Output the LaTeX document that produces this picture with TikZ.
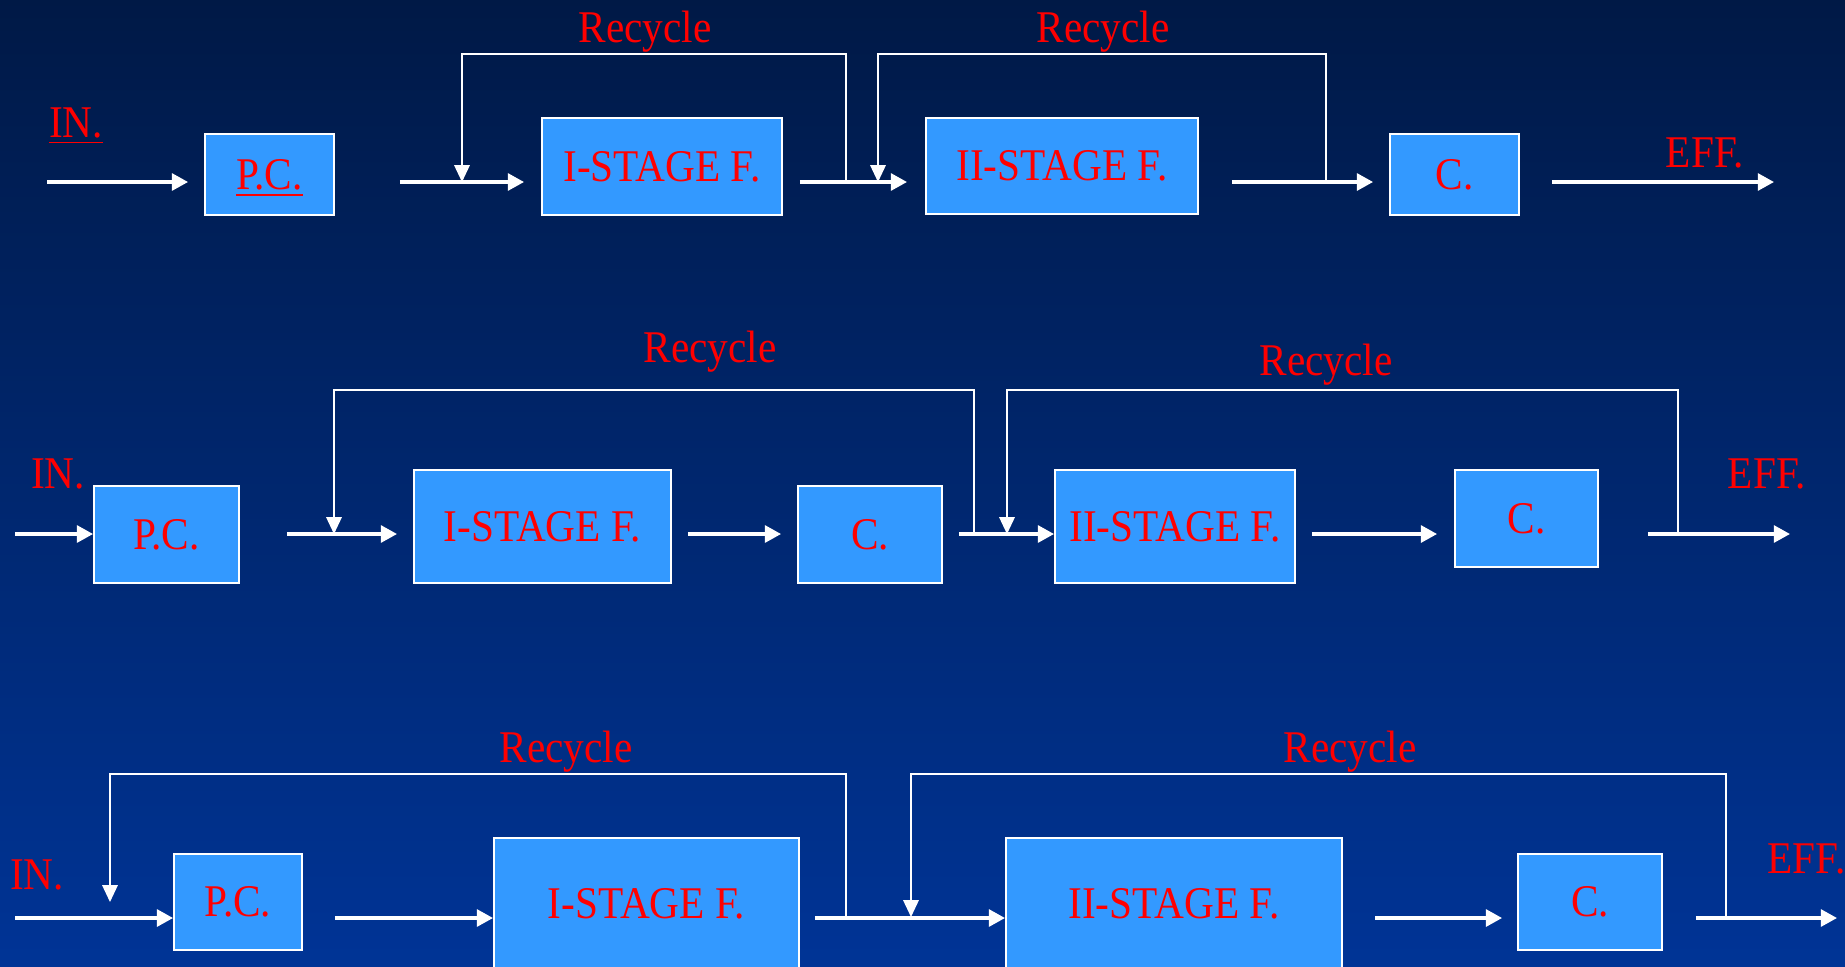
\documentclass[tikz,border=0pt]{standalone}
\usepackage{fontspec}
\setmainfont{Liberation Serif}[FakeStretch=0.91]
\usetikzlibrary{arrows.meta}
\definecolor{bgtop}{RGB}{0,25,70}
\definecolor{bgbottom}{RGB}{0,52,150}
\definecolor{boxblue}{RGB}{51,153,255}
\begin{document}
\begin{tikzpicture}[x=0.01cm,y=-0.01cm,
  unit/.style={draw=white,line width=0.5pt,fill=boxblue,text=red,inner sep=0pt,font=\fontsize{12.9pt}{15pt}\selectfont},
  lbl/.style={text=red,inner sep=0pt,anchor=base,font=\fontsize{12.9pt}{15pt}\selectfont},
  flow/.style={draw=white,line width=0.95pt,-{Triangle[length=4.6pt,width=4.8pt]}},
  back/.style={draw=white,line width=0.5pt,-{Triangle[length=4.8pt,width=4.4pt]}}]
\useasboundingbox (0,0) rectangle (1845,966);
\clip (0,0) rectangle (1845,966);
\shade[top color=bgtop,bottom color=bgbottom] (0,0) rectangle (1845,966);

\node[unit,minimum width=1.29cm,minimum height=0.81cm,text depth=0pt] (pc1) at (269.5,174.5) {\underline{P.C.}};
\node[unit,minimum width=2.40cm,minimum height=0.97cm] (fa1) at (662,166.5) {I-STAGE F.};
\node[unit,minimum width=2.72cm,minimum height=0.96cm] (fb1) at (1062,166) {II-STAGE F.};
\node[unit,minimum width=1.29cm,minimum height=0.81cm] (cl1) at (1454.5,174.5) {C.};
\node[lbl] (in1) at (76,137) {\underline{IN.}};
\node[lbl] (ef1) at (1705,167) {EFF.};
\node[lbl] (ra1) at (645,42) {Recycle};
\node[lbl] (rb1) at (1103,42) {Recycle};

\node[unit,minimum width=1.45cm,minimum height=0.97cm] (pc2) at (166.5,534.5) {P.C.};
\node[unit,minimum width=2.57cm,minimum height=1.13cm] (fa2) at (542.5,526.5) {I-STAGE F.};
\node[unit,minimum width=1.44cm,minimum height=0.97cm] (cm2) at (870,534.5) {C.};
\node[unit,minimum width=2.40cm,minimum height=1.13cm] (fb2) at (1175,526.5) {II-STAGE F.};
\node[unit,minimum width=1.43cm,minimum height=0.97cm] (cl2) at (1526.5,518.5) {C.};
\node[lbl] (in2) at (58,488) {IN.};
\node[lbl] (ef2) at (1767,488) {EFF.};
\node[lbl] (ra2) at (710,362) {Recycle};
\node[lbl] (rb2) at (1326,375) {Recycle};

\node[unit,minimum width=1.28cm,minimum height=0.96cm] (pc3) at (238,902) {P.C.};
\node[unit,minimum width=3.05cm,minimum height=1.32cm] (fa3) at (646.5,904) {I-STAGE F.};
\node[unit,minimum width=3.36cm,minimum height=1.32cm] (fb3) at (1174,904) {II-STAGE F.};
\node[unit,minimum width=1.44cm,minimum height=0.96cm] (cl3) at (1590,902) {C.};
\node[lbl] (in3) at (37,889) {IN.};
\node[lbl,anchor=base west] (ef3) at (1767,873) {EFF.};
\node[lbl] (ra3) at (566,762) {Recycle};
\node[lbl] (rb3) at (1350,762) {Recycle};

\coordinate (i1) at (47,182);
\coordinate (o1) at (1774,182);
\coordinate (ja1) at (846,182);
\coordinate (ka1) at (462,182);
\coordinate (jb1) at (1326,182);
\coordinate (kb1) at (878,182);
\path[flow,shorten >=0.16cm] (i1) -- (pc1.west |- i1);
\path[flow,shorten <=0.65cm,shorten >=0.17cm] (pc1.east |- i1) -- (fa1.west |- i1);
\path[flow,shorten <=0.17cm,shorten >=0.18cm] (fa1.east |- i1) -- (fb1.west |- i1);
\path[flow,shorten <=0.33cm,shorten >=0.16cm] (fb1.east |- i1) -- (cl1.west |- i1);
\path[flow,shorten <=0.32cm] (cl1.east |- i1) -- (o1);
\path[back] (ja1) -- ++(0,-128) -| (ka1);
\path[back] (jb1) -- ++(0,-128) -| (kb1);

\coordinate (i2) at (15,534);
\coordinate (o2) at (1790,534);
\coordinate (ja2) at (974,534);
\coordinate (ka2) at (334,534);
\coordinate (jb2) at (1678,534);
\coordinate (kb2) at (1007,534);
\path[flow] (i2) -- (pc2.west |- i2);
\path[flow,shorten <=0.47cm,shorten >=0.16cm] (pc2.east |- i2) -- (fa2.west |- i2);
\path[flow,shorten <=0.16cm,shorten >=0.16cm] (fa2.east |- i2) -- (cm2.west |- i2);
\path[flow,shorten <=0.16cm] (cm2.east |- i2) -- (fb2.west |- i2);
\path[flow,shorten <=0.16cm,shorten >=0.17cm] (fb2.east |- i2) -- (cl2.west |- i2);
\path[flow,shorten <=0.49cm] (cl2.east |- i2) -- (o2);
\path[back] (ja2) -- ++(0,-144) -| (ka2);
\path[back] (jb2) -- ++(0,-144) -| (kb2);

\coordinate (i3) at (15,918);
\coordinate (o3) at (1837,918);
\coordinate (ja3) at (846,918);
\coordinate (ka3) at (110,902);
\coordinate (jb3) at (1726,918);
\coordinate (kb3) at (911,917);
\path[flow] (i3) -- (pc3.west |- i3);
\path[flow,shorten <=0.32cm] (pc3.east |- i3) -- (fa3.west |- i3);
\path[flow,shorten <=0.15cm] (fa3.east |- i3) -- (fb3.west |- i3);
\path[flow,shorten <=0.32cm,shorten >=0.15cm] (fb3.east |- i3) -- (cl3.west |- i3);
\path[flow,shorten <=0.33cm] (cl3.east |- i3) -- (o3);
\path[back] (ja3) -- ++(0,-144) -| (ka3);
\path[back] (jb3) -- ++(0,-144) -| (kb3);
\end{tikzpicture}
\end{document}
